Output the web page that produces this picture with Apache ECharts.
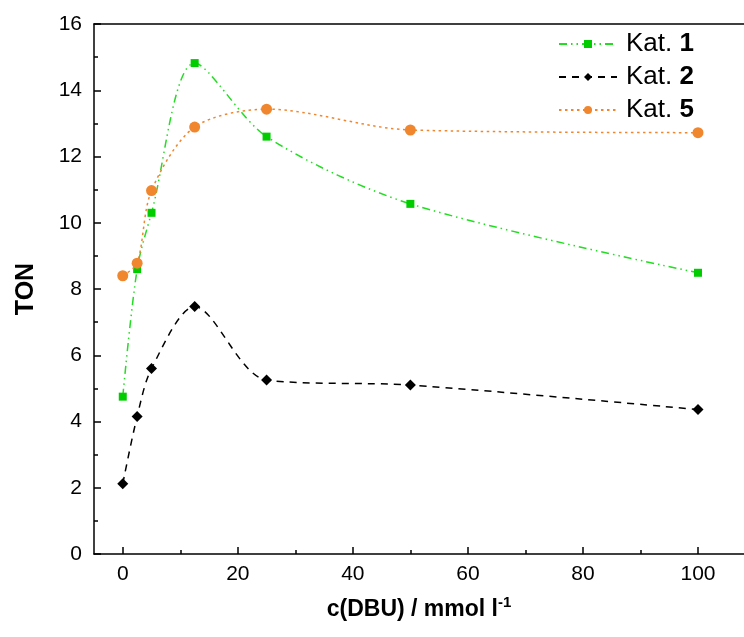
<!DOCTYPE html>
<html><head><meta charset="utf-8">
<script src="https://cdn.jsdelivr.net/npm/echarts@6/dist/echarts.min.js"></script>
<style>html,body{margin:0;padding:0;background:#fff}#c{width:744px;height:637px}</style>
</head><body><div id="c"></div>
<script>
const xValues = [0, 2.5, 5, 12.5, 25, 50, 100];
const kat1 = [4.75, 8.6, 10.3, 14.82, 12.6, 10.57, 8.49];
const kat2 = [2.12, 4.15, 5.6, 7.47, 5.25, 5.1, 4.36];
const kat5 = [8.4, 8.78, 10.97, 12.89, 13.43, 12.8, 12.72];
const seriesNames = ['Kat. 1', 'Kat. 2', 'Kat. 5'];
const xMajorTicks = [0, 20, 40, 60, 80, 100];
const xMinorTicks = [10, 30, 50, 70, 90];

const font = 'Liberation Sans, Arial, sans-serif';
const pairs = a => xValues.map((x, i) => [x, a[i]]);
const chart = echarts.init(document.getElementById('c'));
chart.setOption({
  animation: false,
  textStyle: { fontFamily: font },
  grid: { left: 94, top: 24, right: 0, bottom: 83 },
  legend: {
    orient: 'vertical', left: 553, top: 26, itemWidth: 58, itemHeight: 10, itemGap: 7,
    data: seriesNames,
    formatter: n => { const p = n.split(' '); return '{n|' + p[0] + ' }{b|' + p[1] + '}'; },
    textStyle: { fontFamily: font, fontSize: 26, color: '#000', padding: [0, 0, 0, 4], rich: { n: { fontSize: 26, fontFamily: font, color: '#000', lineHeight: 29 }, b: { fontSize: 26, fontWeight: 'bold', fontFamily: font, color: '#000', lineHeight: 29 } } }
  },
  xAxis: [{
    type: 'value', min: -5, max: 108,
    axisLine: { show: true, onZero: false, lineStyle: { color: '#000', width: 1.5 } },
    axisTick: { show: true, inside: true, length: 7, customValues: xMajorTicks, lineStyle: { color: '#000', width: 1.5 } },
    axisLabel: { customValues: xMajorTicks, margin: 10, fontSize: 21, color: '#000', fontFamily: font },
    splitLine: { show: false },
    name: '{a|c(DBU) / mmol l}{s|-1}', nameLocation: 'middle', nameGap: 41,
    nameTextStyle: { rich: { a: { fontSize: 23, fontWeight: 'bold', fontFamily: font, color: '#000' }, s: { fontSize: 15, fontWeight: 'bold', fontFamily: font, color: '#000', verticalAlign: 'top', padding: [0, 0, 14, 0] } } }
  }, {
    type: 'value', min: -5, max: 108, position: 'bottom',
    axisLine: { show: false },
    axisTick: { show: true, inside: true, length: 4, customValues: xMinorTicks, lineStyle: { color: '#000', width: 1.5 } },
    axisLabel: { show: false }, splitLine: { show: false }
  }, {
    type: 'value', min: -5, max: 108, position: 'top',
    axisLine: { show: true, onZero: false, lineStyle: { color: '#000', width: 1.5 } },
    axisTick: { show: false }, axisLabel: { show: false }, splitLine: { show: false }
  }],
  yAxis: {
    type: 'value', min: 0, max: 16, interval: 2,
    axisLine: { show: true, onZero: false, lineStyle: { color: '#000', width: 1.5 } },
    axisTick: { show: true, inside: true, length: 7, lineStyle: { color: '#000', width: 1.5 } },
    minorTick: { show: true, splitNumber: 2, length: 4, lineStyle: { color: '#000', width: 1.5 } },
    axisLabel: { margin: 12, fontSize: 21, color: '#000', fontFamily: font },
    splitLine: { show: false },
    name: 'TON', nameLocation: 'middle', nameGap: 55,
    nameTextStyle: { fontSize: 25, fontWeight: 'bold', color: '#000', fontFamily: font }
  },
  series: [{
    name: seriesNames[0], type: 'line', data: pairs(kat1), smooth: 0.3, z: 3,
    symbol: 'rect', symbolSize: 8, itemStyle: { color: '#00cc00' },
    lineStyle: { color: '#22dd22', width: 1.5, type: [8, 4, 1.5, 4, 1.5, 4] }
  }, {
    name: seriesNames[1], type: 'line', data: pairs(kat2), smooth: 0.3, z: 4,
    symbol: 'diamond', symbolSize: 11, itemStyle: { color: '#000' },
    lineStyle: { color: '#000', width: 1.5, type: [7, 6] }
  }, {
    name: seriesNames[2], type: 'line', data: pairs(kat5), smooth: 0.3, z: 5,
    symbol: 'circle', symbolSize: 11, itemStyle: { color: '#f0862e' },
    lineStyle: { color: '#f0862e', width: 1.5, type: [2.5, 3.5] }
  }]
});
</script></body></html>
